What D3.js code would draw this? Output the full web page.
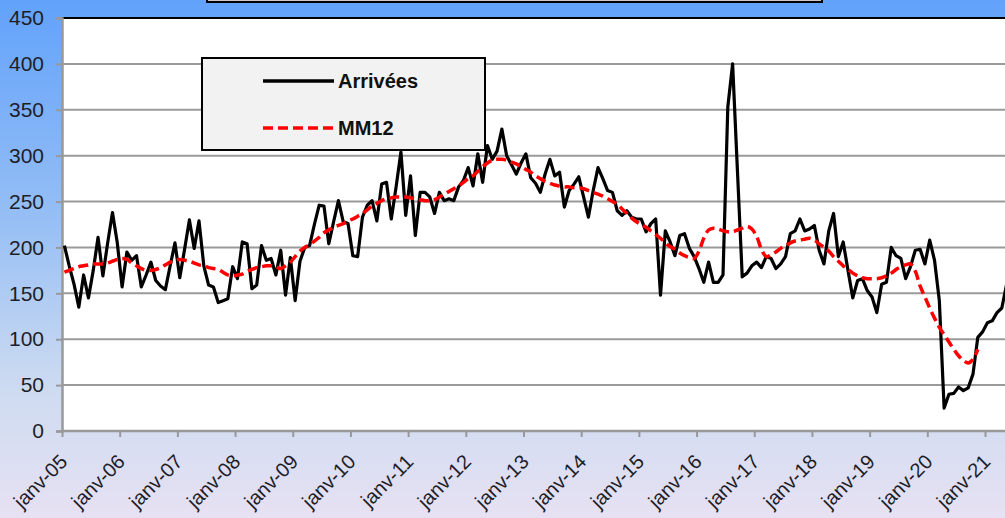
<!DOCTYPE html>
<html><head><meta charset="utf-8">
<script src="https://cdn.jsdelivr.net/npm/d3@7"></script>
<style>html,body{margin:0;padding:0;overflow:hidden;background:#fff}svg{display:block}</style>
</head><body>
<svg id="chart" width="1005" height="518"></svg>
<script>
// ---------- data ----------
const yearLabels = ["janv-05","janv-06","janv-07","janv-08","janv-09","janv-10","janv-11","janv-12","janv-13","janv-14","janv-15","janv-16","janv-17","janv-18","janv-19","janv-20","janv-21"];
const yTicks = [0,50,100,150,200,250,300,350,400,450];
const seriesNames = ["Arrivées","MM12"];
// monthly values from janv-05
const arrivees = [
 202,180,160,135,170,145,175,211,169,205,238,205,
 157,195,186,191,157,170,184,164,158,154,180,205,
 167,198,230,199,229,180,159,157,140,142,144,179,
 166,206,204,155,159,202,186,188,170,197,148,189,
 142,185,200,202,225,246,245,204,228,251,228,226,
 191,190,233,246,251,229,269,271,231,266,304,235,
 278,213,260,260,255,237,260,251,253,251,266,273,
 287,267,302,271,311,296,305,329,300,290,280,292,
 302,276,270,260,280,296,278,282,244,262,269,277,
 255,233,262,287,275,262,260,240,235,240,233,231,
 231,217,226,231,148,218,206,191,213,215,199,190,
 177,162,184,162,162,170,353,400,284,168,172,180,
 184,178,190,188,177,182,190,215,218,231,218,220,
 224,197,182,218,237,190,206,175,145,164,166,153,
 146,129,160,162,200,191,188,166,179,197,198,182,
 208,186,142,25,40,41,48,44,47,62,102,108,
 118,120,129,134,160
];
const mm12 = [
 173,175,177,179,180,181,182,182,182,183,185,187,
 188,187,183,180,177,175,175,176,178,181,184,186,
 187,186,185,183,181,180,178,177,176,173,170,169,
 170,171,174,176,178,179,180,180,179,177,180,184,
 190,196,200,203,207,211,216,219,222,224,226,229,
 231,234,237,241,245,248,251,253,254,255,255,255,
 254,253,252,251,251,252,255,258,261,264,267,271,
 275,278,283,288,292,295,296,296,295,293,291,288,
 285,282,278,275,272,270,268,267,266,266,265,265,
 264,262,260,258,256,253,250,247,242,237,232,228,
 225,222,218,214,210,205,201,198,194,191,189,188,
 196,210,219,221,220,218,217,217,219,221,223,220,
 212,198,190,192,195,199,202,205,207,208,209,210,
 208,204,200,196,190,185,180,176,172,169,167,166,
 166,166,167,169,172,176,179,181,182,174,158,146,
 134,123,113,105,97,89,82,77,74,78,89
];

// ---------- chart ----------
const W = 1005, H = 518;
const svg = d3.select("#chart");
const pLeft = 62, pTop = 18, pBottom = 431;
const x = d3.scaleLinear().domain([0, 192]).range([pLeft, 985]);
const y = d3.scaleLinear().domain([0, 450]).range([pBottom, pTop]);

const defs = svg.append("defs");
const grad = defs.append("linearGradient").attr("id","bg").attr("x1",0).attr("y1",0).attr("x2",0).attr("y2",1);
grad.append("stop").attr("offset","0%").attr("stop-color","#62a2fb");
grad.append("stop").attr("offset","40%").attr("stop-color","#93bdf5");
grad.append("stop").attr("offset","75%").attr("stop-color","#cddbf1");
grad.append("stop").attr("offset","100%").attr("stop-color","#e7e1f3");
svg.append("rect").attr("width",W).attr("height",H).attr("fill","url(#bg)");

// title box (cropped at top)
svg.append("rect").attr("x",207).attr("y",-20).attr("width",615).attr("height",22)
  .attr("fill","#c9c9c9").attr("stroke","#000").attr("stroke-width",2);

// plot area
svg.append("rect").attr("x",pLeft).attr("y",pTop).attr("width",W-pLeft+20).attr("height",pBottom-pTop).attr("fill","#fff");

// grid
svg.append("g").selectAll("line").data(yTicks.filter(d=>d>0 && d<450)).join("line")
  .attr("x1",pLeft).attr("x2",W+5).attr("y1",d=>y(d)).attr("y2",d=>y(d))
  .attr("stroke","#9a9a9a").attr("stroke-width",2);
svg.append("line").attr("x1",pLeft).attr("x2",W+5).attr("y1",y(450)).attr("y2",y(450))
  .attr("stroke","#000").attr("stroke-width",2);

// axes
const yAxis = svg.append("g").attr("transform",`translate(${pLeft},0)`)
  .call(d3.axisLeft(y).tickValues(yTicks).tickSize(6).tickPadding(12).tickFormat(d3.format("d")));
yAxis.select(".domain").attr("stroke","#999").attr("stroke-width",2.5);
yAxis.selectAll(".tick line").attr("stroke","#999").attr("stroke-width",2);
yAxis.selectAll("text").attr("font-family","Liberation Sans, Arial, sans-serif").attr("font-size",21).attr("fill","#1e1e28");

const xTickVals = d3.range(0, 193, 12);
const xAxis = svg.append("g").attr("transform",`translate(0,${pBottom})`)
  .call(d3.axisBottom(x).tickValues(xTickVals).tickSize(6).tickFormat((d,i)=>yearLabels[i]));
xAxis.select(".domain").attr("stroke","#999").attr("stroke-width",2.5).attr("d",`M${pLeft},0H${W+5}`);
xAxis.selectAll(".tick line").attr("stroke","#999").attr("stroke-width",2);
xAxis.selectAll("text")
  .attr("font-family","Liberation Sans, Arial, sans-serif").attr("font-size",20).attr("fill","#1e1e28")
  .attr("text-anchor","end").attr("dy",0).attr("y",0)
  .attr("transform","translate(6,32) rotate(-45)");

// lines
const lineA = d3.line().x((d,i)=>x(i+0.5)).y(d=>y(d));
const lineM = d3.line().x((d,i)=>x(i+0.5)).y(d=>y(d)).curve(d3.curveCatmullRom.alpha(0.5));
svg.append("path").datum(arrivees).attr("d",lineA).attr("fill","none")
  .attr("stroke","#000").attr("stroke-width",3.2).attr("stroke-linejoin","round");
svg.append("path").datum(mm12).attr("d",lineM).attr("fill","none")
  .attr("stroke","#ff0000").attr("stroke-width",3.5).attr("stroke-dasharray","10,5");

// legend
const lg = svg.append("g");
lg.append("rect").attr("x",202).attr("y",58).attr("width",283).attr("height",92)
  .attr("fill","#f2f2f2").attr("stroke","#000").attr("stroke-width",2);
const lgItems = [{name:seriesNames[0], color:"#000", dash:null, yy:81},
                 {name:seriesNames[1], color:"#ff0000", dash:"10,5", yy:128}];
lgItems.forEach(it=>{
  lg.append("line").attr("x1",263).attr("x2",334).attr("y1",it.yy).attr("y2",it.yy)
    .attr("stroke",it.color).attr("stroke-width",3.5).attr("stroke-dasharray",it.dash);
  lg.append("text").attr("x",338).attr("y",it.yy).attr("dy","0.36em")
    .attr("font-family","Liberation Sans, Arial, sans-serif").attr("font-weight","bold")
    .attr("font-size",20).attr("fill","#111").text(it.name);
});
</script>
</body></html>
